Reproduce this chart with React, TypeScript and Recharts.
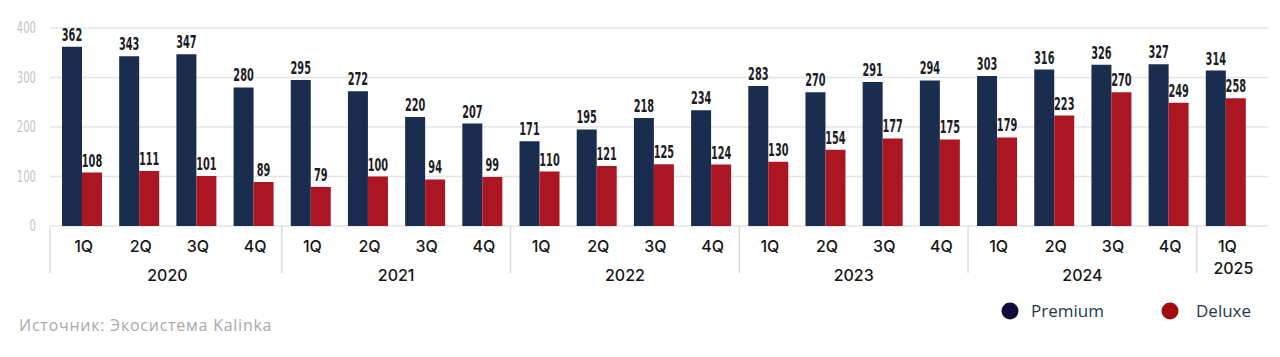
import React from "react";
import { BarChart, Bar, XAxis, YAxis, CartesianGrid, LabelList, Customized } from "recharts";

const quarters = ["1Q","2Q","3Q","4Q","1Q","2Q","3Q","4Q","1Q","2Q","3Q","4Q","1Q","2Q","3Q","4Q","1Q","2Q","3Q","4Q","1Q"];
const years = ["2020","2020","2020","2020","2021","2021","2021","2021","2022","2022","2022","2022","2023","2023","2023","2023","2024","2024","2024","2024","2025"];
const premium = [362,343,347,280,295,272,220,207,171,195,218,234,283,270,291,294,303,316,326,327,314];
const deluxe = [108,111,101,89,79,100,94,99,110,121,125,124,130,154,177,175,179,223,270,249,258];
const yTicks = [0,100,200,300,400];
const seriesNames = ["Premium","Deluxe"];
const sourceText = "Источник: Экосистема Kalinka";

const data = quarters.map((q, i) => ({ key: `${years[i]} ${q}`, premium: premium[i], deluxe: deluxe[i] }));

const W = 1280, H = 357;
const XH = 100;
const M = { top: 28, right: 26, bottom: 131 - XH, left: 0 };
const YW = 53;
const PLOT_W = W - M.right - M.left - YW;
const STEP = PLOT_W / quarters.length;

const PREM = "#1b2d4e";
const DLX = "#ab1622";
const SANS = "'Open Sans', 'Noto Sans', sans-serif";
const AXF = "Inter, 'Open Sans', sans-serif";
const NARROW = "'Liberation Sans Narrow', 'DejaVu Sans Condensed', 'DejaVu Sans', sans-serif";

const XTick = (props: any) => {
  const { x, y, index } = props;
  const i = index as number;
  const yr = years[i];
  const isFirst = i === 0 || years[i - 1] !== yr;
  const n = years.filter((v) => v === yr).length;
  const sx = x - STEP / 2 - (i === 0 ? 3 : 0);
  return (
    <g>
      <text x={x + 2} y={y + 26} textAnchor="middle" fontFamily={AXF} fontSize={16} fontWeight={500} fill="#161616">
        {quarters[i]}
      </text>
      {isFirst && <line x1={sx} x2={sx} y1={y} y2={y + 47} stroke="#dcdcdc" strokeWidth={1.5} />}
      {isFirst && n > 1 && (
        <text x={x + ((n - 1) / 2) * STEP} y={y + 55} textAnchor="middle" fontFamily={AXF} fontSize={16} fontWeight={500} fill="#161616">
          {yr}
        </text>
      )}
      {isFirst && n === 1 && (
        <text x={x - 12} y={y + 48} textAnchor="start" fontFamily={AXF} fontSize={16} fontWeight={500} fill="#161616">
          {yr}
        </text>
      )}
    </g>
  );
};

const YTick = (props: any) => {
  const { y, payload } = props;
  const s = String(payload.value);
  return (
    <text x={36} y={y + 5} textAnchor="end" fontFamily={NARROW} fontSize={15} fill="#c4c4c4"
      textLength={s.length * 6.4} lengthAdjust="spacingAndGlyphs">
      {s}
    </text>
  );
};

const GridLine = (props: any) => {
  const { x1, x2, y1, y2 } = props;
  return <line x1={x1 - 3} x2={x2 + 14} y1={y1} y2={y2} stroke="#e4e4e4" strokeWidth={1.3} />;
};

const BarLabel = (props: any) => {
  const { x, y, width, value } = props;
  const s = String(value);
  return (
    <text x={x + width / 2} y={y - 6} textAnchor="middle" fontFamily={NARROW} fontSize={17} fontWeight={700} fill="#1c1c24"
      textLength={s.length * 6.8} lengthAdjust="spacingAndGlyphs">
      {s}
    </text>
  );
};

const Extras = () => (
  <g>
    <text x={19} y={331} fontFamily={SANS} fontSize={16} letterSpacing={0.75} fill="#a9a9a9">{sourceText}</text>
    <circle cx={1010} cy={311} r={8.5} fill="#100d3b" />
    <text x={1031} y={317} fontFamily={SANS} fontSize={17} fill="#1f3947">{seriesNames[0]}</text>
    <circle cx={1170} cy={311} r={8.5} fill="#a00c12" />
    <text x={1196} y={317} fontFamily={SANS} fontSize={17} fill="#1f3947">{seriesNames[1]}</text>
  </g>
);

export default function App() {
  return (
    <div style={{ position: "absolute", left: 0, top: 0, width: W, height: H, background: "#fff" }}>
      <BarChart width={W} height={H} data={data} margin={M} barGap={0} barSize={20}>
        <CartesianGrid vertical={false} horizontal={(p: any) => <GridLine key={p.key ?? `${p.y1}`} {...p} />} />
        <XAxis dataKey="key" interval={0} tickLine={false} axisLine={false} tickSize={0} tickMargin={0} tick={<XTick />} height={XH} />
        <YAxis domain={[0, 400]} ticks={yTicks} width={YW} axisLine={false} tickLine={false} tick={<YTick />} />
        <Bar dataKey="premium" name={seriesNames[0]} fill={PREM} isAnimationActive={false}>
          <LabelList dataKey="premium" content={<BarLabel />} />
        </Bar>
        <Bar dataKey="deluxe" name={seriesNames[1]} fill={DLX} isAnimationActive={false}>
          <LabelList dataKey="deluxe" content={<BarLabel />} />
        </Bar>
        <Customized component={Extras} />
      </BarChart>
    </div>
  );
}
